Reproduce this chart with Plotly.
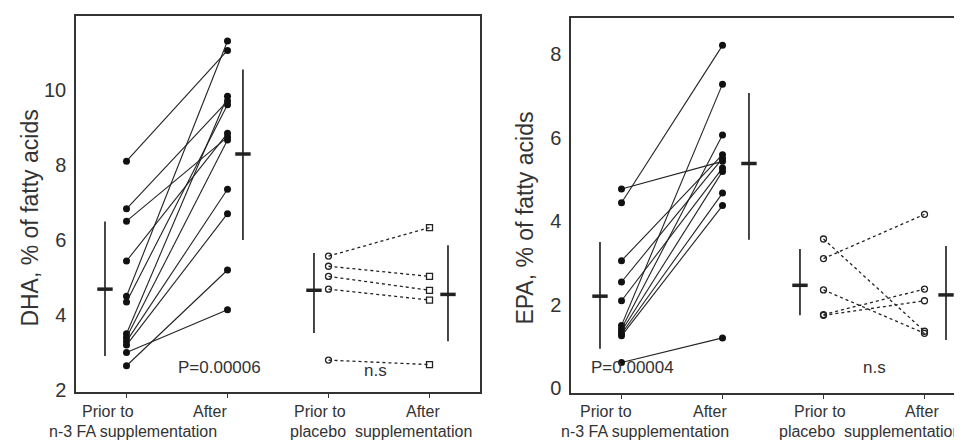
import plotly.graph_objects as go

# ---------------- data ----------------
# DHA panel (left)
dha_n3_prior = [8.1, 6.83, 6.5, 5.44, 4.5, 4.35, 3.5, 3.4, 3.3, 3.2, 3.0, 2.65]
dha_n3_after = [11.05, 9.7, 8.74, 8.84, 11.3, 9.6, 9.83, 8.66, 7.35, 6.7, 4.14, 5.2]
dha_pl_prior = [5.57, 5.3, 5.03, 4.69, 2.8]
dha_pl_after = [6.33, 5.03, 4.66, 4.4, 2.68]
dha_mean = [4.69, 8.29, 4.66, 4.55]
dha_sd_hi = [6.49, 10.54, 5.65, 5.86]
dha_sd_lo = [2.91, 6.0, 3.52, 3.3]

# EPA panel (right)
epa_n3_prior = [4.77, 4.44, 3.05, 2.54, 2.09, 1.5, 1.42, 1.36, 1.3, 1.25, 0.61]
epa_n3_after = [5.43, 8.21, 5.59, 5.5, 5.27, 7.28, 6.06, 5.19, 4.67, 4.37, 1.2]
epa_pl_prior = [3.57, 3.1, 2.35, 1.76, 1.74]
epa_pl_after = [1.36, 4.16, 1.31, 2.37, 2.09]
epa_mean = [2.2, 5.38, 2.46, 2.23]
epa_sd_hi = [3.5, 7.07, 3.33, 3.4]
epa_sd_lo = [0.94, 3.55, 1.74, 1.15]

# category positions and mean-bar positions
cat_pos = [1, 2, 3, 4]
mean_pos_dha = [0.787, 2.153, 2.856, 4.183]
mean_pos_epa = [0.787, 2.262, 2.767, 4.213]

dha_ticks = [2, 4, 6, 8, 10]
epa_ticks = [0, 2, 4, 6, 8]

label_line1 = ["Prior to", "After", "Prior to", "After"]
label_line2 = ["n-3 FA supplementation", "placebo  supplementation"]
p_texts = ["P=0.00006", "P=0.00004"]

# ---------------- figure ----------------
W, H = 962, 442
INK = "#222222"
fig = go.Figure()


def add_panel(xa, ya, n3_prior, n3_after, pl_prior, pl_after, mean, hi, lo, mpos,
              pl_after_symbol):
    for a, b in zip(n3_prior, n3_after):
        fig.add_trace(go.Scatter(
            x=[cat_pos[0], cat_pos[1]], y=[a, b], mode="lines+markers",
            line=dict(color=INK, width=1.1),
            marker=dict(symbol="circle", size=7, color="#111111"),
            xaxis=xa, yaxis=ya, showlegend=False, hoverinfo="skip"))
    for a, b in zip(pl_prior, pl_after):
        fig.add_trace(go.Scatter(
            x=[cat_pos[2], cat_pos[3]], y=[a, b], mode="lines+markers",
            line=dict(color=INK, width=1.3, dash="dot"),
            marker=dict(symbol=["circle-open", pl_after_symbol], size=6,
                        color=INK, line=dict(width=1.3, color=INK)),
            xaxis=xa, yaxis=ya, showlegend=False, hoverinfo="skip"))
    fig.add_trace(go.Scatter(
        x=mpos, y=mean, mode="markers",
        marker=dict(symbol="line-ew", size=11, line=dict(width=3.5, color=INK)),
        error_y=dict(type="data", symmetric=False,
                     array=[h - m for h, m in zip(hi, mean)],
                     arrayminus=[m - l for m, l in zip(mean, lo)],
                     width=0, thickness=1.8, color="#333333"),
        xaxis=xa, yaxis=ya, showlegend=False, hoverinfo="skip"))


add_panel("x", "y", dha_n3_prior, dha_n3_after, dha_pl_prior, dha_pl_after,
          dha_mean, dha_sd_hi, dha_sd_lo, mean_pos_dha, "square-open")
add_panel("x2", "y2", epa_n3_prior, epa_n3_after, epa_pl_prior, epa_pl_after,
          epa_mean, epa_sd_hi, epa_sd_lo, mean_pos_epa, "circle-open")

axis_common = dict(showgrid=False, zeroline=False, showline=True,
                   linecolor="#333333", linewidth=1.5)
xcommon = dict(axis_common, tickvals=cat_pos, ticktext=["", "", "", ""],
               ticks="outside", ticklen=4, tickcolor="#333333", tickwidth=1.2)
ycommon = dict(axis_common, ticks="", ticklabelstandoff=4,
               tickfont=dict(family="Liberation Sans, Arial", size=20,
                             color="#333333"))

fig.update_layout(
    width=W, height=H, margin=dict(l=0, r=0, t=0, b=0),
    paper_bgcolor="white", plot_bgcolor="white",
    xaxis=dict(xcommon, domain=[68 / W, 472 / W], range=[0.5, 4.5], mirror=True,
               anchor="y"),
    yaxis=dict(ycommon, domain=[1 - 392 / H, 1 - 8 / H], range=[1.95, 11.97],
               tickvals=dha_ticks, mirror=True, anchor="x"),
    xaxis2=dict(xcommon, domain=[563 / W, 1.0], range=[0.5, 0.5 + 399 / 101],
                mirror=True, anchor="y2"),
    yaxis2=dict(ycommon, domain=[1 - 393 / H, 1 - 10 / H], range=[-0.12, 8.87],
                tickvals=epa_ticks, anchor="x2"),
)

font_lab = dict(family="Liberation Sans, Arial", size=16, color="#333333")
font_p = dict(family="Liberation Sans, Arial", size=17, color="#333333")
font_title = dict(family="Liberation Sans, Arial", size=23, color="#333333")

# y-axis titles
fig.add_annotation(text="DHA, % of fatty acids", xref="paper", yref="paper",
                   x=22 / W, y=1 - 215 / H, textangle=-90, showarrow=False,
                   font=font_title, xanchor="center", yanchor="middle")
fig.add_annotation(text="EPA, % of fatty acids", xref="paper", yref="paper",
                   x=517 / W, y=1 - 215 / H, textangle=-90, showarrow=False,
                   font=font_title, xanchor="center", yanchor="middle")

# category labels (pixel centres)
line1_px = [[100, 202, 312, 415], [598, 702, 812, 914]]
line2_px = [[125, 373], [637, 862]]
for panel in range(2):
    for txt, px in zip(label_line1, line1_px[panel]):
        fig.add_annotation(text=txt, xref="paper", yref="paper", x=px / W,
                           y=1 - 412 / H, showarrow=False, font=font_lab,
                           xanchor="center", yanchor="middle")
    for txt, px in zip(label_line2, line2_px[panel]):
        fig.add_annotation(text=txt, xref="paper", yref="paper", x=px / W,
                           y=1 - 432 / H, showarrow=False, font=font_lab,
                           xanchor="center", yanchor="middle")

# p-values and n.s
fig.add_annotation(text=p_texts[0], xref="paper", yref="paper", x=168 / W,
                   y=1 - 379 / H, showarrow=False, font=font_p)
fig.add_annotation(text="n.s", xref="paper", yref="paper", x=367 / W,
                   y=1 - 382 / H, showarrow=False, font=font_p)
fig.add_annotation(text=p_texts[1], xref="paper", yref="paper", x=668 / W,
                   y=1 - 379 / H, showarrow=False, font=font_p)
fig.add_annotation(text="n.s", xref="paper", yref="paper", x=880 / W,
                   y=1 - 379 / H, showarrow=False, font=font_p)

fig.write_html("out.html")
